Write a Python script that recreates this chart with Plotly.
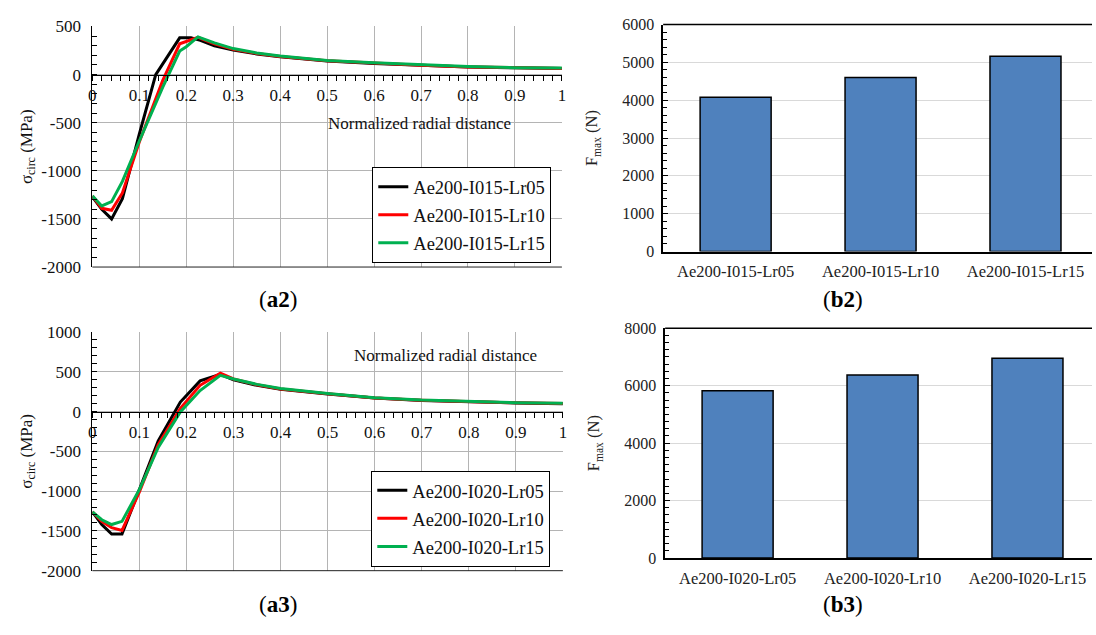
import plotly.graph_objects as go

# ---------------- data ----------------
# (a2) circumferential stress, I015
a2_x_lr05 = [0, 0.02, 0.041, 0.064, 0.1, 0.135, 0.186, 0.21, 0.23, 0.26, 0.3, 0.35, 0.4, 0.5, 0.6, 0.7, 0.8, 0.9, 1.0]
a2_y_lr05 = [-1270, -1400, -1500, -1290, -620, 0, 382, 382, 355, 300, 255, 215, 185, 140, 115, 95, 80, 70, 62]
a2_x_lr10 = [0, 0.02, 0.041, 0.064, 0.1, 0.15, 0.186, 0.21, 0.225, 0.26, 0.3, 0.35, 0.4, 0.5, 0.6, 0.7, 0.8, 0.9, 1.0]
a2_y_lr10 = [-1260, -1390, -1410, -1230, -700, -60, 320, 360, 388, 320, 262, 220, 188, 143, 117, 97, 80, 70, 63]
a2_x_lr15 = [0, 0.02, 0.041, 0.064, 0.1, 0.15, 0.186, 0.2, 0.225, 0.26, 0.3, 0.35, 0.4, 0.5, 0.6, 0.7, 0.8, 0.9, 1.0]
a2_y_lr15 = [-1260, -1365, -1320, -1110, -690, -130, 245, 290, 392, 330, 270, 225, 192, 147, 122, 100, 83, 72, 68]

# (a3) circumferential stress, I020
a3_x = [0, 0.02, 0.041, 0.063, 0.1, 0.14, 0.187, 0.229, 0.272, 0.3, 0.35, 0.4, 0.5, 0.6, 0.7, 0.8, 0.9, 1.0]
a3_y_lr05 = [-1260, -1420, -1540, -1540, -980, -370, 120, 386, 467, 400, 330, 280, 220, 170, 140, 120, 108, 100]
a3_y_lr10 = [-1260, -1380, -1460, -1495, -1010, -415, 40, 330, 482, 410, 338, 285, 224, 172, 143, 122, 110, 102]
a3_y_lr15 = [-1260, -1360, -1420, -1380, -980, -450, -5, 265, 455, 410, 342, 290, 228, 175, 145, 124, 112, 104]

a2_names = ["Ae200-I015-Lr05", "Ae200-I015-Lr10", "Ae200-I015-Lr15"]
a3_names = ["Ae200-I020-Lr05", "Ae200-I020-Lr10", "Ae200-I020-Lr15"]

# tick labels (hyphen minus as in the original)
a2_yticks = [-2000, -1500, -1000, -500, 0, 500]
a2_yticktext = ["-2000", "-1500", "-1000", "-500", "0", "500"]
a3_yticks = [-2000, -1500, -1000, -500, 0, 500, 1000]
a3_yticktext = ["-2000", "-1500", "-1000", "-500", "0", "500", "1000"]

# (b2), (b3) maximum force
b2_cats = ["Ae200-I015-Lr05", "Ae200-I015-Lr10", "Ae200-I015-Lr15"]
b2_vals = [4080, 4600, 5160]
b3_cats = ["Ae200-I020-Lr05", "Ae200-I020-Lr10", "Ae200-I020-Lr15"]
b3_vals = [5820, 6370, 6950]

line_colors = ["#000000", "#ff0000", "#00b050"]
FONT = "Liberation Serif, Times New Roman, serif"
W, H = 1096, 635

def px(v):
    return v / W

def py(v):
    return 1 - v / H

fig = go.Figure()

# ---- line charts ----
for i, (xs, ys, nm, c) in enumerate(zip([a2_x_lr05, a2_x_lr10, a2_x_lr15], [a2_y_lr05, a2_y_lr10, a2_y_lr15], a2_names, line_colors)):
    fig.add_trace(go.Scatter(x=xs, y=ys, name=nm, mode="lines", line=dict(color=c, width=3),
                             xaxis="x", yaxis="y", legend="legend", legendgroup="a2_%d" % i))
for i, (ys, nm, c) in enumerate(zip([a3_y_lr05, a3_y_lr10, a3_y_lr15], a3_names, line_colors)):
    fig.add_trace(go.Scatter(x=a3_x, y=ys, name=nm, mode="lines", line=dict(color=c, width=3),
                             xaxis="x2", yaxis="y2", legend="legend2", legendgroup="a3_%d" % i))

# ---- bar charts ----
bar_style = dict(marker=dict(color="#4f81bd", line=dict(color="#000000", width=1.5)), width=0.49, showlegend=False)
fig.add_trace(go.Bar(x=b2_cats, y=b2_vals, xaxis="x3", yaxis="y3", **bar_style))
fig.add_trace(go.Bar(x=b3_cats, y=b3_vals, xaxis="x4", yaxis="y4", **bar_style))

tickfont = dict(family=FONT, size=17, color="#111111")
grid_col = "#b4b4b4"

def line_xaxis(dom, pos):
    return dict(domain=dom, range=[0, 1], anchor="free", position=pos,
                dtick=0.1, tick0=0, showgrid=True, gridcolor=grid_col, gridwidth=1,
                showline=True, linecolor="#000000", linewidth=1,
                ticks="outside", ticklen=5, tickwidth=1, tickcolor="#000000",
                minor=dict(dtick=0.02, tick0=0, ticks="outside", ticklen=5, tickwidth=1,
                           tickcolor="#000000", showgrid=False),
                tickfont=tickfont, zeroline=False, fixedrange=True)

def line_yaxis(dom, xanchor, rng, tv, tt, title_text):
    return dict(domain=dom, range=rng, anchor=xanchor, tickmode="array", tickvals=tv, ticktext=tt,
                showgrid=True, gridcolor=grid_col, gridwidth=1,
                showline=True, linecolor="#000000", linewidth=1,
                ticks="inside", ticklen=5, tickwidth=1, tickcolor="#000000",
                minor=dict(dtick=100, tick0=0, ticks="inside", ticklen=5, tickwidth=1,
                           tickcolor="#000000", showgrid=False),
                tickfont=tickfont, zeroline=False, fixedrange=True, ticklabelstandoff=7,
                title=dict(text=title_text, font=dict(family=FONT, size=17, color="#111111"), standoff=4))

sig_title = "σ<sub>circ</sub> (MPa)"
fmax_title = "F<sub>max</sub> (N)"

fig.update_layout(
    xaxis=line_xaxis([px(89), px(562)], py(67.7)),
    yaxis=line_yaxis([py(266), py(18)], "x", [-2000, 500], a2_yticks, a2_yticktext, sig_title),
    xaxis2=line_xaxis([px(89), px(563)], py(415)),
    yaxis2=line_yaxis([py(579), py(333)], "x2", [-2000, 1000], a3_yticks, a3_yticktext, sig_title),
)

def bar_xaxis(dom, yanchor, right):
    return dict(domain=dom, anchor=yanchor, range=[-0.5, right], showgrid=False,
                showline=True, linecolor="#000000", linewidth=1.5, ticks="",
                ticklabelstandoff=4,
                tickfont=dict(family=FONT, size=16.5, color="#222222"), fixedrange=True)

def bar_yaxis(dom, xanchor, rng, dtick, minor_dtick):
    return dict(domain=dom, anchor=xanchor, range=rng, dtick=dtick,
                showgrid=True, gridcolor="#d9d9d9", gridwidth=1,
                showline=True, linecolor="#000000", linewidth=1.5,
                ticks="inside", ticklen=5, tickwidth=1, tickcolor="#000000",
                minor=dict(dtick=minor_dtick, ticks="inside", ticklen=4, tickwidth=1,
                           tickcolor="#000000", showgrid=False),
                tickfont=dict(family=FONT, size=16, color="#222222"), zeroline=False, fixedrange=True,
                ticklabelstandoff=4,
                title=dict(text=fmax_title, font=dict(family=FONT, size=16.5, color="#222222"), standoff=20))

fig.update_layout(
    xaxis3=bar_xaxis([px(664), 1.0], "y3", -0.5 + (W - 664) / 146),
    yaxis3=bar_yaxis([py(250), py(16)], "x3", [0, 6000], 1000, 200),
    xaxis4=bar_xaxis([px(666), 1.0], "y4", -0.5 + (W - 666) / 146),
    yaxis4=bar_yaxis([py(566), py(329)], "x4", [0, 8000], 2000, 250),
)

legend_style = dict(bgcolor="#ffffff", bordercolor="#000000", borderwidth=1,
                    font=dict(family=FONT, size=18.5, color="#111111"),
                    xanchor="left", yanchor="top", tracegroupgap=1, itemwidth=30)
fig.update_layout(
    legend=dict(x=px(371), y=py(163), **legend_style),
    legend2=dict(x=px(370), y=py(476), **legend_style),
)

ann = []
ann.append(dict(text="Normalized radial distance", x=px(419), y=py(118), xref="paper", yref="paper",
                xanchor="center", yanchor="middle",
                showarrow=False, font=dict(family=FONT, size=17, color="#111111")))
ann.append(dict(text="Normalized radial distance", x=px(445), y=py(357), xref="paper", yref="paper",
                xanchor="center", yanchor="middle",
                showarrow=False, font=dict(family=FONT, size=17, color="#111111")))
for t, xx, yy in [("a2", 276, 299), ("b2", 845, 299), ("a3", 276, 614), ("b3", 845, 614)]:
    ann.append(dict(text="(<b>%s</b>)" % t, x=px(xx), y=py(yy), xref="paper", yref="paper",
                    xanchor="center", yanchor="middle",
                    showarrow=False, font=dict(family=FONT, size=23, color="#000000")))

shapes = [
    dict(type="line", xref="x domain", yref="y domain", x0=0, x1=1, y0=0, y1=0, line=dict(color="#222222", width=1)),
    dict(type="line", xref="x2 domain", yref="y2 domain", x0=0, x1=1, y0=0, y1=0, line=dict(color="#222222", width=1)),
    dict(type="line", xref="x3 domain", yref="y3 domain", x0=0, x1=1, y0=1, y1=1, line=dict(color="#000000", width=1.5)),
    dict(type="line", xref="x4 domain", yref="y4 domain", x0=0, x1=1, y0=1, y1=1, line=dict(color="#000000", width=1.5)),
]

fig.update_layout(
    width=W, height=H, margin=dict(l=0, r=0, t=0, b=0),
    font=dict(family=FONT, color="#111111"),
    paper_bgcolor="#ffffff", plot_bgcolor="#ffffff",
    annotations=ann, shapes=shapes,
)

fig.write_html("out.html")
